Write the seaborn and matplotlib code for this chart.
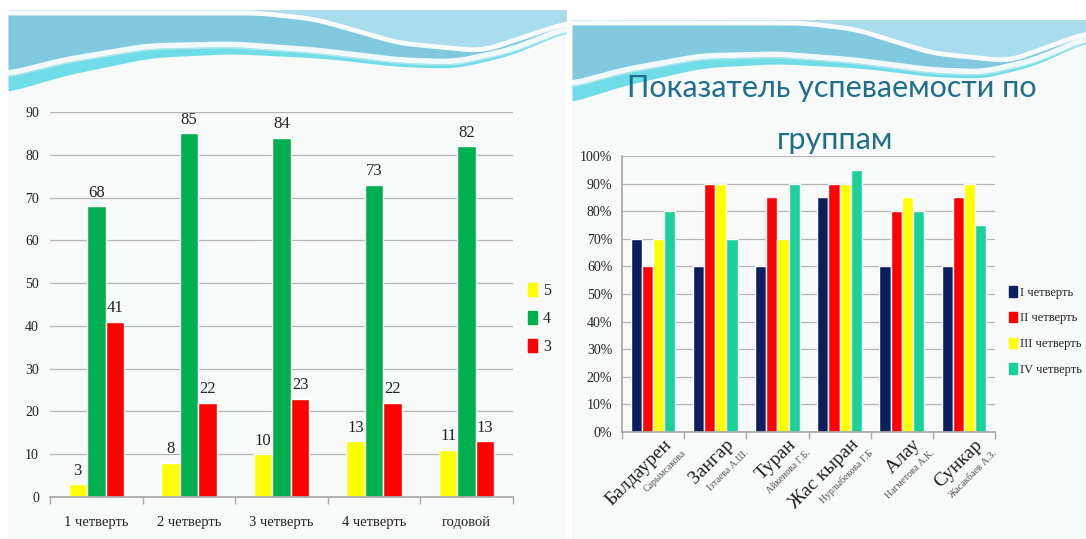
import numpy as np
import pandas as pd
import matplotlib
matplotlib.use("Agg")
import matplotlib.pyplot as plt
import matplotlib.transforms as mtransforms
from matplotlib.patches import Rectangle
from matplotlib.ticker import PercentFormatter
import seaborn as sns

# ---------------- data ----------------
quarters = ["1 четверть", "2 четверть", "3 четверть", "4 четверть", "годовой"]
grade_names = ["5", "4", "3"]
grade5 = [3, 8, 10, 13, 11]
grade4 = [68, 85, 84, 73, 82]
grade3 = [41, 22, 23, 22, 13]

groups = ["Балдаурен", "Зангар", "Туран", "Жас кыран", "Алау", "Сункар"]
teachers = ["Сарымсакова", "Ізтаева А.Ш.", "Айкенова Г.Б.", "Нурлыбекова Г.Б",
            "Нагметова А.К.", "Жасакбаев А.З."]
quarter_names = ["I четверть", "II четверть", "III четверть", "IV четверть"]
q1 = [0.70, 0.60, 0.60, 0.85, 0.60, 0.60]
q2 = [0.60, 0.90, 0.85, 0.90, 0.80, 0.85]
q3 = [0.70, 0.90, 0.70, 0.90, 0.85, 0.90]
q4 = [0.80, 0.70, 0.90, 0.95, 0.80, 0.75]
title_lines = ["Показатель успеваемости по", "группам"]

# ---------------- styling ----------------
sns.set_theme(style="white")
plt.rcParams["font.family"] = ["Liberation Serif", "DejaVu Serif"]
W, H = 1086, 539
fig = plt.figure(figsize=(W / 100, H / 100), dpi=100)
fig.patch.set_facecolor("white")

# background slides (decoration)
bg = fig.add_axes([0, 0, 1, 1], zorder=-10)
bg.set_xlim(0, W)
bg.set_ylim(H, 0)
bg.axis("off")


def slide(x0, x1, top):
    bg.add_patch(Rectangle((x0, top), x1 - x0, H - top, color="#f8f9f9", lw=0))
    u = np.linspace(0, 1, 400)
    X = x0 + u * (x1 - x0)
    k = np.ones(25) / 25
    lb = top + np.interp(u, [0, .1, .25, .4, .55, .7, .8, .9, 1.0],
                         [66, 52, 38, 36, 42, 52, 54, 42, 20])
    lb = np.convolve(np.pad(lb, 12, mode="edge"), k, mode="valid")
    bg.fill_between(X, top, lb, color="#80c9df", lw=0)
    # lighter lobe top right
    lobe = top + np.interp(u, [0, .45, .55, .7, .85, 1.0], [0, 0, 6, 30, 38, 10])
    lobe = np.convolve(np.pad(lobe, 12, mode="edge"), k, mode="valid")
    bg.fill_between(X, top, lobe, color="#a9dcec", lw=0)
    bg.plot(X, lobe + 3, color="white", lw=3.5, alpha=0.95)
    # cyan band under the wave
    lb2 = lb + np.interp(u, [0, .3, .6, .85, 1], [16, 9, 5, 4, 2])
    bg.fill_between(X, lb, lb2, color="#6fdde8", lw=0)
    bg.plot(X, lb - 2, color="white", lw=4, alpha=0.9)
    bg.plot(X, lb + 1.5, color="#b9e7ee", lw=1, alpha=0.9)


slide(8, 566, 10)
slide(572, W, 20)


def frac_rect(l, t, r, b):
    return [l / W, 1 - b / H, (r - l) / W, (b - t) / H]


# ---------------- left chart ----------------
ax1 = fig.add_axes(frac_rect(50, 112, 513, 497))
ax1.set_facecolor("none")
df1 = pd.DataFrame({
    "quarter": quarters * 3,
    "grade": sum([[g] * len(quarters) for g in grade_names], []),
    "value": grade5 + grade4 + grade3,
})
pal1 = {"5": "#ffff00", "4": "#00b050", "3": "#ff0000"}
sns.barplot(data=df1, x="quarter", y="value", hue="grade", hue_order=grade_names,
            palette=pal1, width=0.6, saturation=1, legend=False, ax=ax1)
for c in ax1.containers:
    ax1.bar_label(c, fmt="%d", padding=4, fontsize=12, color="#222222")
ax1.set_ylim(0, 90)
ax1.set_yticks(range(0, 91, 10))
ax1.set_xlabel("")
ax1.set_ylabel("")
ax1.yaxis.grid(True, color="#b5b5b5", lw=0.9)
ax1.set_axisbelow(True)
for s in ["top", "right", "left"]:
    ax1.spines[s].set_visible(False)
ax1.spines["bottom"].set_color("#a8a8a8")
ax1.set_xticks(np.arange(-0.5, len(quarters), 1), minor=True)
ax1.tick_params(axis="x", which="major", length=0, pad=14, labelsize=10.5, labelcolor="#222222")
ax1.tick_params(axis="x", which="minor", length=5, color="#a8a8a8", bottom=True)
ax1.tick_params(axis="y", length=0, pad=8, labelsize=10, labelcolor="#222222")
ax1.set_xlim(-0.5, len(quarters) - 0.5)

h1 = [Rectangle((0, 0), 1, 1, color=pal1[g]) for g in grade_names]
fig.legend(h1, grade_names, loc="center left", bbox_to_anchor=(514 / W, 1 - 319 / H),
           frameon=False, fontsize=11.5, handlelength=0.55, handleheight=0.9,
           handletextpad=0.35, labelspacing=0.75, labelcolor="#222222")

# ---------------- right chart ----------------
ax2 = fig.add_axes(frac_rect(622, 156, 995, 432))
ax2.set_facecolor("none")
df2 = pd.DataFrame({
    "group": groups * 4,
    "quarter": sum([[q] * len(groups) for q in quarter_names], []),
    "value": q1 + q2 + q3 + q4,
})
pal2 = dict(zip(quarter_names, ["#0b1f5e", "#ff0000", "#ffff00", "#19d19b"]))
sns.barplot(data=df2, x="group", y="value", hue="quarter", hue_order=quarter_names,
            palette=pal2, width=0.72, saturation=1, legend=False, ax=ax2)
ax2.set_ylim(0, 1)
ax2.set_yticks(np.arange(0, 1.01, 0.1))
ax2.yaxis.set_major_formatter(PercentFormatter(1.0, decimals=0))
ax2.set_xlabel("")
ax2.set_ylabel("")
ax2.yaxis.grid(True, color="#b5b5b5", lw=0.9)
ax2.set_axisbelow(True)
for s in ["top", "right"]:
    ax2.spines[s].set_visible(False)
ax2.spines["bottom"].set_color("#a8a8a8")
ax2.spines["left"].set_color("#a8a8a8")
ax2.set_xlim(-0.5, len(groups) - 0.5)
ax2.set_xticks(np.arange(-0.5, len(groups), 1), minor=True)
ax2.tick_params(axis="x", which="minor", length=5, color="#a8a8a8", bottom=True)
ax2.tick_params(axis="y", length=4, color="#a8a8a8", pad=3, labelsize=10, labelcolor="#222222")
ax2.set_xticks(range(len(groups)))
ax2.set_xticklabels(groups, rotation=45, ha="right", va="top", rotation_mode="anchor",
                    fontsize=14, color="#222222")
ax2.tick_params(axis="x", which="major", length=0, pad=3)
off = mtransforms.ScaledTranslation(10 / 100, 0, fig.dpi_scale_trans)
for lab in ax2.get_xticklabels():
    lab.set_transform(lab.get_transform() + off)
blend = mtransforms.blended_transform_factory(ax2.transData, ax2.transAxes)
for i, t in enumerate(teachers):
    ax2.text(i + 0.46, -0.06, t, transform=blend, rotation=45, ha="right", va="top",
             rotation_mode="anchor", fontsize=7, color="#555555")

h2 = [Rectangle((0, 0), 1, 1, color=pal2[q]) for q in quarter_names]
fig.legend(h2, quarter_names, loc="center left", bbox_to_anchor=(998 / W, 1 - 331 / H),
           frameon=False, fontsize=9, handlelength=0.6, handleheight=0.9,
           handletextpad=0.3, labelspacing=1.05, labelcolor="#222222")

fig.text(832 / W, 1 - 88 / H, title_lines[0], ha="center", va="center", fontsize=22,
         color="#1f6f8b", family=["Lato", "DejaVu Sans"])
fig.text(835 / W, 1 - 140 / H, title_lines[1], ha="center", va="center", fontsize=22,
         color="#1f6f8b", family=["Lato", "DejaVu Sans"])

fig.savefig("out.png", dpi=100)
